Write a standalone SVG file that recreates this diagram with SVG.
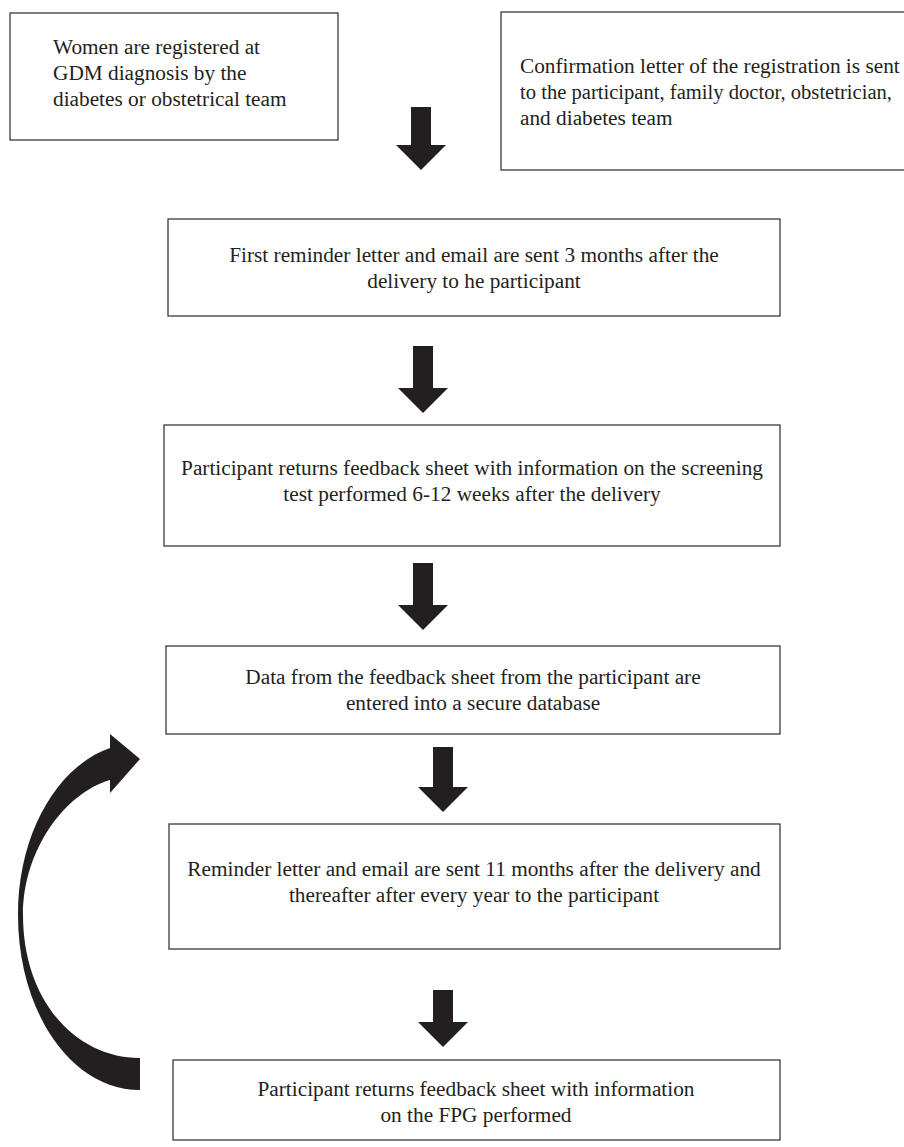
<svg xmlns="http://www.w3.org/2000/svg" width="904" height="1147" viewBox="0 0 904 1147">
<style>
.box{fill:#fff;stroke:#3a3a3a;stroke-width:1.3}
.t{font-family:"Liberation Serif","Times New Roman",serif;font-size:21.3px;fill:#231f20}
.c{text-anchor:middle}
.arr{fill:#231f20}
</style>
<rect width="904" height="1147" fill="#fff"/>
<g id="n1"><rect class="box" x="10" y="13" width="328" height="127"/>
<text class="t" x="53" y="54">Women are registered at</text>
<text class="t" x="53" y="80">GDM diagnosis by the</text>
<text class="t" x="53" y="106">diabetes or obstetrical team</text></g>
<g id="n2"><rect class="box" x="501" y="12" width="420" height="158"/>
<text class="t" x="520" y="73">Confirmation letter of the registration is sent</text>
<text class="t" x="520" y="99" textLength="372" lengthAdjust="spacingAndGlyphs">to the participant, family doctor, obstetrician,</text>
<text class="t" x="520" y="125">and diabetes team</text></g>
<g id="n3"><rect class="box" x="168" y="219" width="612" height="97"/>
<text class="t c" x="474" y="262">First reminder letter and email are sent 3 months after the</text>
<text class="t c" x="474" y="288">delivery to he participant</text></g>
<g id="n4"><rect class="box" x="164" y="425" width="616" height="121"/>
<text class="t c" x="472" y="475">Participant returns feedback sheet with information on the screening</text>
<text class="t c" x="472" y="501">test performed 6-12 weeks after the delivery</text></g>
<g id="n5"><rect class="box" x="166" y="646" width="614" height="88"/>
<text class="t c" x="473" y="684">Data from the feedback sheet from the participant are</text>
<text class="t c" x="473" y="710">entered into a secure database</text></g>
<g id="n6"><rect class="box" x="169" y="824" width="611" height="125"/>
<text class="t c" x="474" y="876">Reminder letter and email are sent 11 months after the delivery and</text>
<text class="t c" x="474" y="902">thereafter after every year to the participant</text></g>
<g id="n7"><rect class="box" x="173" y="1060" width="607" height="80"/>
<text class="t c" x="476" y="1096">Participant returns feedback sheet with information</text>
<text class="t c" x="476" y="1122">on the FPG performed</text></g>
<g id="connectors">
<path class="arr" d="M411,107 H431 V145 H446 L421,170 L396,145 H411 Z"/>
<path class="arr" d="M413,346 H433 V388 H448 L423,413 L398,388 H413 Z"/>
<path class="arr" d="M413,563 H433 V605 H448 L423,630 L398,605 H413 Z"/>
<path class="arr" d="M433,747 H453 V787 H468 L443,812 L418,787 H433 Z"/>
<path class="arr" d="M433,990 H453 V1022 H468 L443,1047 L418,1022 H433 Z"/>
<path class="arr" d="M140,1090 C70,1090 18,1010 18,915 C18,830 60,765 110,748 L110,734 L140,759 L110,793 L110,780 C65,793 23,850 23,915 C23,1000 75,1058 140,1058 Z"/>
</g>
</svg>
